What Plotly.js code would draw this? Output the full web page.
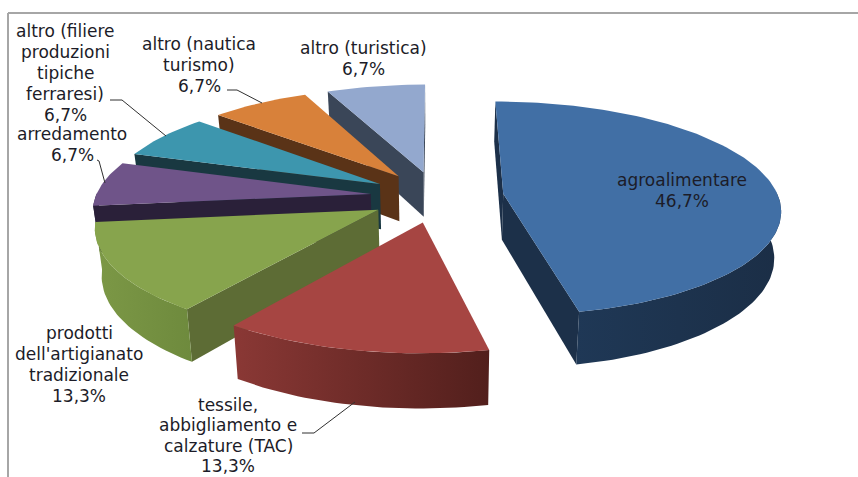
<!DOCTYPE html>
<html>
<head>
<meta charset="utf-8">
<script src="https://cdn.plot.ly/plotly-3.0.1.min.js"></script>
<style>html,body{margin:0;padding:0;background:#fff}</style>
</head>
<body>
<div id="chart" style="width:858px;height:477px"></div>
<script>
// Sector shares, in percent, clockwise from twelve o'clock
const sectors = ["agroalimentare", "tessile, abbigliamento e calzature (TAC)", "prodotti dell'artigianato tradizionale",
  "arredamento", "altro (filiere produzioni tipiche ferraresi)", "altro (nautica turismo)", "altro (turistica)"];
const shares = [46.7, 13.3, 13.3, 6.7, 6.7, 6.7, 6.7];
const topColors = ["#416FA5", "#A64542", "#87A44D", "#6F5489", "#3D96AE", "#D8813A", "#93A8CE"];
const sideColors = ["#1C3049", "#5E2522", "#5D6C35", "#2A2039", "#193841", "#5A3317", "#3A4658"];
const wallFrom = ["#1F3856", "#8A3835", "#7C9846", "#2A2039", "#193841", "#5A3317", "#3A4658"];
const wallTo = ["#1B2E46", "#521F1C", "#6E8A3D", "#2A2039", "#193841", "#5A3317", "#3A4658"];
const paintOrder = [6, 5, 4, 3, 2, 0, 1];

// Label lines with the centre, first row and row spacing of each block
const labelLines = [
  ["agroalimentare", "46,7%"],
  ["tessile,", "abbigliamento e", "calzature (TAC)", "13,3%"],
  ["prodotti", "dell'artigianato", "tradizionale", "13,3%"],
  ["arredamento", "6,7%"],
  ["altro (filiere", "produzioni", "tipiche", "ferraresi)", "6,7%"],
  ["altro (nautica", "turismo)", "6,7%"],
  ["altro (turistica)", "6,7%"]
];
const labelX = [682, 228, 79, 72, 65, 199, 363];
const labelY = [180, 404.5, 333, 134, 31, 44, 48];
const lineStep = [21, 20.5, 21, 21, 21, 21, 21];

// Projection of the exploded pie: radius, tilt, perspective, explosion and height
const view = {cx: 437, cy: 196.5, rx: 275, ry: 105.5, persp: 0.135, pull: 0.243, height: 46, shrink: 0.98};

function project(u, v, lower) {
  const s = 1 / (1 - view.persp * v);
  return [
    view.cx + u * view.rx * s * (lower ? view.shrink : 1),
    view.cy + v * view.ry * s + (lower ? view.height * s : 0)
  ];
}

function polygon(points, fill, extra) {
  return Object.assign({
    x: points.concat([points[0]]).map(p => p[0]),
    y: points.concat([points[0]]).map(p => p[1]),
    type: "scatter", mode: "lines", fill: "toself",
    fillcolor: fill, line: {width: 0, color: fill},
    hoverinfo: "skip", showlegend: false
  }, extra || {});
}

function signedArea(pts) {
  let a = 0;
  pts.forEach((p, i) => {
    const q = pts[(i + 1) % pts.length];
    a += p[0] * q[1] - q[0] * p[1];
  });
  return a;
}

const total = shares.reduce((a, b) => a + b, 0);
const starts = [];
shares.reduce((acc, v, i) => { starts[i] = acc; return acc + v; }, 0);

const traces = [];
paintOrder.forEach(i => {
  const a0 = starts[i] / total * 2 * Math.PI;
  const a1 = (starts[i] + shares[i]) / total * 2 * Math.PI;
  const mid = (a0 + a1) / 2;
  const ou = view.pull * Math.sin(mid), ov = -view.pull * Math.cos(mid);
  const arcAngles = [];
  const steps = Math.max(8, Math.round((a1 - a0) * 40));
  for (let k = 0; k <= steps; k++) arcAngles.push(a0 + (a1 - a0) * k / steps);
  const world = a => [ou + Math.sin(a), ov - Math.cos(a)];

  // Flat cut faces, kept only when they turn towards the viewer
  const apexT = project(ou, ov, false), apexB = project(ou, ov, true);
  [[a0, true], [a1, false]].forEach(([a, first]) => {
    const w = world(a);
    const t = project(w[0], w[1], false), b = project(w[0], w[1], true);
    const quad = first ? [apexT, t, b, apexB] : [t, apexT, apexB, b];
    if (signedArea(quad) < 0) traces.push(polygon(quad, sideColors[i]));
  });

  // Curved outer wall, front-facing part only, shaded from left to right
  const front = arcAngles.filter(a => Math.cos(a) < 0.02);
  if (front.length > 1) {
    const upper = front.map(a => { const w = world(a); return project(w[0], w[1], false); });
    const lower = front.map(a => { const w = world(a); return project(w[0], w[1], true); }).reverse();
    traces.push(polygon(upper.concat(lower), sideColors[i], {
      fillgradient: {type: "horizontal", colorscale: [[0, wallFrom[i]], [1, wallTo[i]]]}
    }));
  }

  // Top surface
  const rim = arcAngles.map(a => { const w = world(a); return project(w[0], w[1], false); });
  traces.push(polygon([apexT].concat(rim), topColors[i]));
});

// Thin leader lines from labels to their slices
const leaders = [
  {x: [110, 122, 166], y: [100, 100, 136]},
  {x: [227, 237, 262], y: [90, 90, 103]},
  {x: [97, 99, 105], y: [160, 161, 183]},
  {x: [302, 314, 355], y: [433, 433, 402]}
];
leaders.forEach(l => traces.push({
  x: l.x, y: l.y, type: "scatter", mode: "lines",
  line: {color: "#303030", width: 1}, hoverinfo: "skip", showlegend: false
}));

const annotations = [];
labelLines.forEach((lines, i) => lines.forEach((text, j) => annotations.push({
  x: labelX[i], y: labelY[i] + j * lineStep[i], text: text, showarrow: false,
  xanchor: "center", yanchor: "middle",
  font: {family: "DejaVu Sans, Verdana, sans-serif", size: 17, color: "#1c1c28"}
})));

const frame = {type: "line", line: {color: "#A6A6A6", width: 2}};
const layout = {
  width: 858, height: 477,
  margin: {l: 0, r: 0, t: 0, b: 0},
  paper_bgcolor: "#fff", plot_bgcolor: "#fff",
  xaxis: {range: [0, 858], visible: false, fixedrange: true},
  yaxis: {range: [477, 0], visible: false, fixedrange: true},
  showlegend: false,
  annotations: annotations,
  shapes: [
    Object.assign({x0: 8, x1: 858, y0: 13, y1: 13}, frame),
    Object.assign({x0: 8, x1: 8, y0: 13, y1: 477}, frame)
  ]
};
Plotly.newPlot("chart", traces, layout, {displayModeBar: false, staticPlot: true});
</script>
</body>
</html>
